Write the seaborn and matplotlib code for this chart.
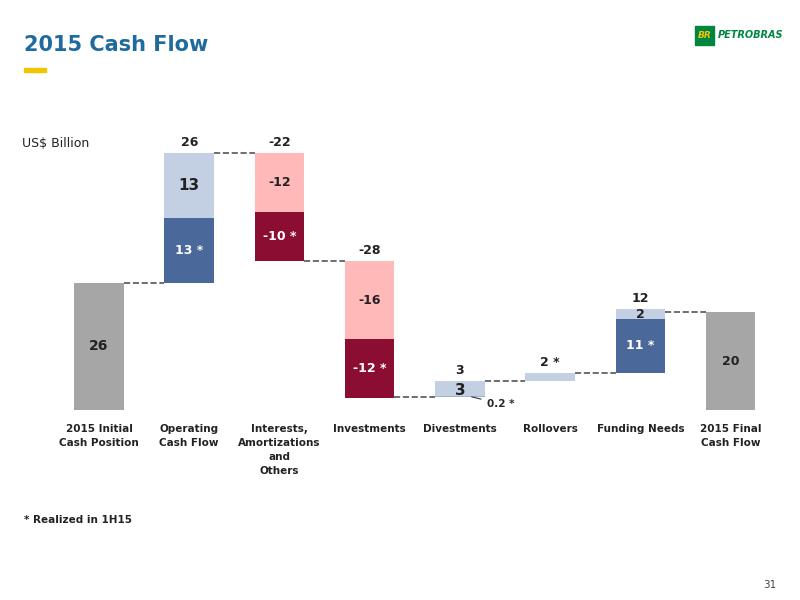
import matplotlib
matplotlib.use("Agg")
import matplotlib.pyplot as plt
import seaborn as sns
from matplotlib.patches import Rectangle

sns.set_theme(style="white")
plt.rcParams['font.family'] = ['DejaVu Sans']

categories = ["2015 Initial\nCash Position", "Operating\nCash Flow", "Interests,\nAmortizations\nand\nOthers",
              "Investments", "Divestments", "Rollovers", "Funding Needs", "2015 Final\nCash Flow"]
totals = [26, 26, -22, -28, 3, 2, 12, 20]
realized = [0, 13.3, -10, -12, 0.2, 0, 11, 0]
remainder = [0, 13.2, -12, -16, 3, 1.7, 2, 0]
top_labels = ["", "26", "-22", "-28", "3", "2 *", "12", ""]
inner_real = ["", "13 *", "-10 *", "-12 *", "", "", "11 *", ""]
inner_rem = ["", "13", "-12", "-16", "3", "", "2", ""]
level_start = [0, 26.1, 52.6, 30.5, 2.7, 5.9, 7.6, 0]

grey, lblue, dblue, pink, dred = "#a6a6a6", "#c3cfe2", "#4a6899", "#ffb9b9", "#8b0e32"

fig = plt.figure(figsize=(8, 6), dpi=100)
ax = fig.add_axes([0.056, 0.317, 0.925, 0.516])
w = 0.55
sns.barplot(x=list(range(8)), y=[26.1, 0, 0, 0, 0, 0, 0, 20], color=grey, width=w, ax=ax,
            native_scale=True, linewidth=0, saturation=1)
ax.set_xlim(-0.6, 7.6)
ax.set_ylim(0, 63.5)

for i in range(1, 7):
    s = level_start[i]
    r, m = realized[i], remainder[i]
    sign = 1 if totals[i] > 0 else -1
    if sign > 0:
        c1, c2 = dblue, lblue
        if i == 4:
            c1 = "#9fb2cf"
        if i == 5:
            c1, c2 = lblue, lblue
    else:
        c1, c2 = dred, pink
    if sign > 0:
        ax.bar(i, r, bottom=s, width=w, color=c1, linewidth=0)
        ax.bar(i, m, bottom=s + r, width=w, color=c2, linewidth=0)
        low, mid, high = s, s + r, s + r + m
    else:
        e = s + r + m
        ax.bar(i, -r, bottom=e, width=w, color=c1, linewidth=0)
        ax.bar(i, -m, bottom=e - r, width=w, color=c2, linewidth=0)
        low, mid, high = e, e - r, s
    ax.text(i, high + 0.8, top_labels[i], ha="center", va="bottom", fontsize=9, fontweight="bold", color="#222")
    if inner_real[i]:
        ax.text(i, (low + mid) / 2, inner_real[i], ha="center", va="center", fontsize=9,
                fontweight="bold", color="white")
    if inner_rem[i]:
        fs = 11 if i in (1, 4) else 9
        ax.text(i, (mid + high) / 2 if i != 4 else 3.9, inner_rem[i], ha="center", va="center",
                fontsize=fs, fontweight="bold", color="#222")

ax.text(0, 13, "26", ha="center", va="center", fontsize=10, fontweight="bold", color="#222")
ax.text(7, 10, "20", ha="center", va="center", fontsize=9, fontweight="bold", color="#222")
ax.annotate("0.2 *", xy=(4.1, 2.8), xytext=(4.3, 1.2), fontsize=7.5, fontweight="bold", ha="left", va="center",
            arrowprops=dict(arrowstyle="-", color="#333", lw=0.8))

levels = [26.1, 52.6, 30.5, 2.7, 5.9, 7.6, 20]
for i in range(7):
    ax.plot([i + w / 2, i + 1 - w / 2], [levels[i], levels[i]], ls="--", color="#555", lw=1.2)

ax.set_xticks(range(8))
ax.set_xticklabels(categories, fontsize=7.5, fontweight="bold", color="#222", va="top", linespacing=1.5)
ax.tick_params(axis="x", length=0, pad=10)
ax.set_yticks([])
ax.set_xlabel(""); ax.set_ylabel("")
for sp in ax.spines.values():
    sp.set_visible(False)

fig.text(0.03, 0.915, "2015 Cash Flow", fontsize=15, fontweight="bold", color="#1f6a9e")
fig.add_artist(Rectangle((0.03, 0.88), 0.028, 0.006, color="#f5c400", transform=fig.transFigure))
fig.add_artist(Rectangle((0.869, 0.925), 0.024, 0.032, color="#008542", transform=fig.transFigure))
fig.text(0.881, 0.941, "BR", fontsize=6.5, fontweight="bold", color="#f5c400", ha="center", va="center", style="italic")
fig.text(0.897, 0.941, "PETROBRAS", fontsize=7, fontweight="bold", color="#008542", va="center", style="italic")
fig.text(0.028, 0.755, "US$ Billion", fontsize=9, color="#222")
fig.text(0.03, 0.128, "* Realized in 1H15", fontsize=7.5, fontweight="bold", color="#222")
fig.text(0.97, 0.02, "31", fontsize=7.5, color="#444", ha="right")
fig.savefig("out.png", dpi=100)
